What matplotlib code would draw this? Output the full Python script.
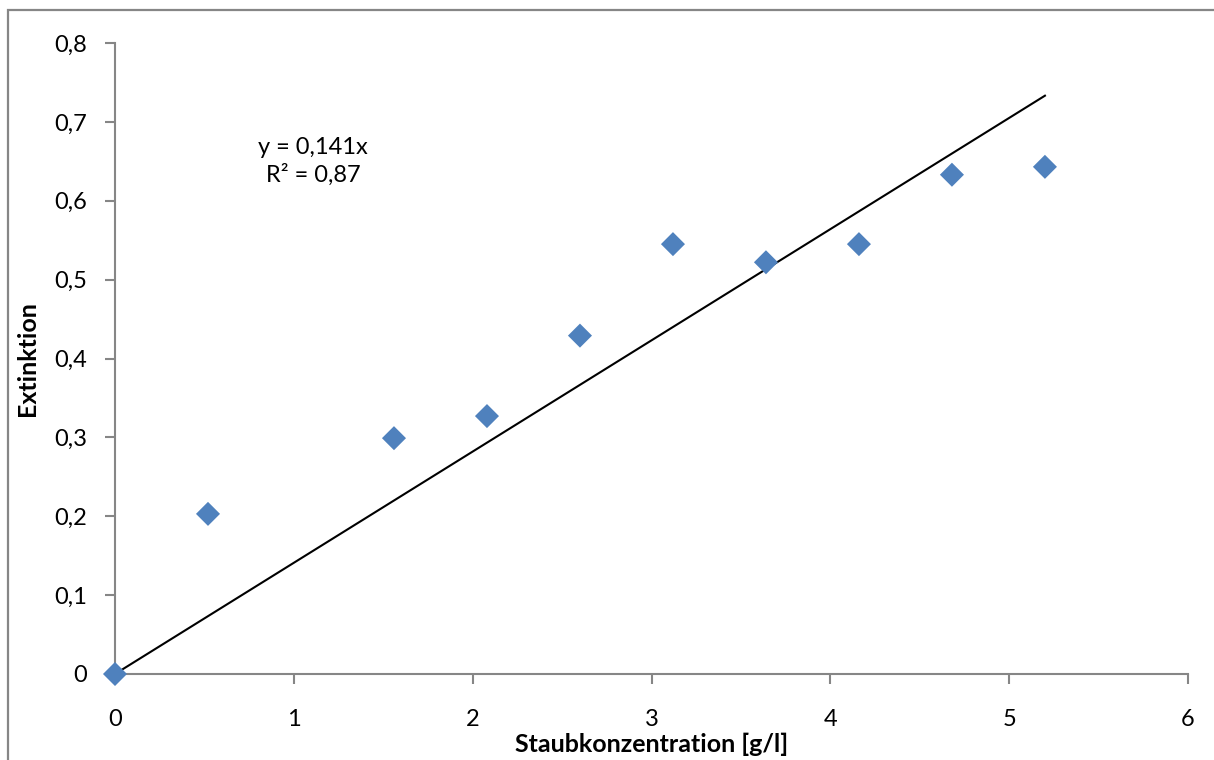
import matplotlib
matplotlib.use("Agg")
import matplotlib.pyplot as plt
from matplotlib.patches import Rectangle
import numpy as np

plt.rcParams['font.family'] = ['Lato', 'DejaVu Sans']

konz = [0, 0.52, 1.56, 2.08, 2.6, 3.12, 3.64, 4.16, 4.68, 5.2]
ext = [0, 0.203, 0.299, 0.327, 0.429, 0.545, 0.522, 0.545, 0.633, 0.643]
slope = 0.141
x_ticks = [0, 1, 2, 3, 4, 5, 6]
y_ticks = [0, 0.1, 0.2, 0.3, 0.4, 0.5, 0.6, 0.7, 0.8]
y_tick_labels = ['0', '0,1', '0,2', '0,3', '0,4', '0,5', '0,6', '0,7', '0,8']
x_tick_labels = ['0', '1', '2', '3', '4', '5', '6']

fig = plt.figure(figsize=(12.14, 7.6), dpi=100)
fig.patches.append(Rectangle((8/1214, -0.1), 1.2, 1 - 10/760 + 0.1,
                             transform=fig.transFigure, fill=False,
                             edgecolor='#868686', linewidth=1.6))
ax = fig.add_axes([115/1214, 1 - 674/760, (1188 - 115)/1214, (674 - 43)/760])

xs = np.array([0, konz[-1]])
ax.plot(xs, slope * xs, color='black', linewidth=1.5, zorder=2)
ax.scatter(konz, ext, marker='D', s=150, color='#4F81BD', edgecolors='none',
           zorder=3, clip_on=False)

ax.set_xlim(0, 6)
ax.set_ylim(0, 0.8)
ax.set_xticks(x_ticks)
ax.set_xticklabels(x_tick_labels)
ax.set_yticks(y_ticks)
ax.set_yticklabels(y_tick_labels)
for s in ['top', 'right']:
    ax.spines[s].set_visible(False)
for s in ['left', 'bottom']:
    ax.spines[s].set_color('#868686')
    ax.spines[s].set_linewidth(1.5)
ax.tick_params(axis='both', direction='out', length=7, width=1.5,
               color='#868686', labelsize=17, labelcolor='black')
ax.tick_params(axis='x', pad=18)
ax.tick_params(axis='y', pad=13)

ax.set_xlabel('Staubkonzentration [g/l]', fontsize=18, fontweight='bold', labelpad=2)
ax.set_ylabel('Extinktion', fontsize=18, fontweight='bold', labelpad=11)

ax.text(1.107, 0.65, 'y = 0,141x\nR² = 0,87', ha='center', va='center',
        fontsize=17, linespacing=1.3)

fig.savefig('out.png', dpi=100)
